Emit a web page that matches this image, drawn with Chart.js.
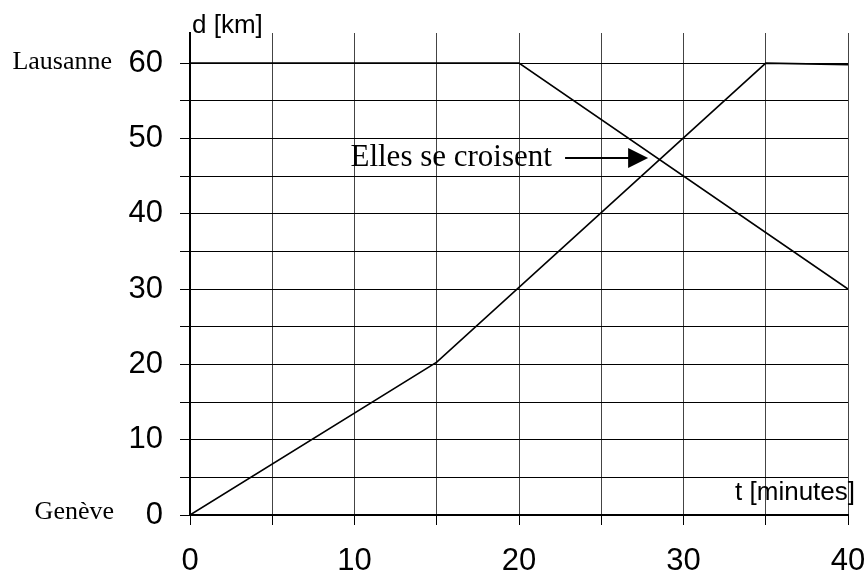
<!DOCTYPE html>
<html>
<head>
<meta charset="utf-8">
<script src="https://cdn.jsdelivr.net/npm/chart.js@4/dist/chart.umd.min.js"></script>
<style>
  html, body { margin: 0; padding: 0; background: #fff; }
  #wrap { width: 867px; height: 573px; position: relative; }
</style>
</head>
<body>
<div id="wrap"><canvas id="c"></canvas></div>
<script>
// Data
const genevaTimes = [0, 15, 35, 40];          // minutes
const genevaDist  = [0, 20.3, 60, 59.8];      // km
const lausanneTimes = [0, 20, 40];            // minutes
const lausanneDist  = [60, 60, 30];           // km
const xTickLabels = [0, 10, 20, 30, 40];
const yTickLabels = [0, 10, 20, 30, 40, 50, 60];
const yAxisTitle = 'd [km]';
const xAxisTitle = 't [minutes]';
const topPlace = 'Lausanne';
const bottomPlace = 'Genève';
const annotation = 'Elles se croisent';

const toPoints = (xs, ys) => xs.map((x, i) => ({ x: x, y: ys[i] }));

const textPlugin = {
  id: 'texts',
  afterDraw(chart) {
    const ctx = chart.ctx;
    const xs = chart.scales.x, ys = chart.scales.y;
    ctx.save();
    ctx.fillStyle = '#000';
    ctx.textBaseline = 'middle';

    ctx.font = '26px "Liberation Sans", Arial, sans-serif';
    ctx.textAlign = 'left';
    ctx.fillText(yAxisTitle, xs.getPixelForValue(0) + 2, 26);
    ctx.textAlign = 'right';
    ctx.fillText(xAxisTitle, xs.getPixelForValue(40) + 7, ys.getPixelForValue(0) - 22);

    ctx.font = '26px "Liberation Serif", "Times New Roman", serif';
    ctx.textAlign = 'right';
    ctx.fillText(topPlace, 112, ys.getPixelForValue(60) - 1);
    ctx.fillText(bottomPlace, 114, ys.getPixelForValue(0) - 3);

    // annotation
    const ay = ys.getPixelForValue(47.4);
    ctx.font = '31px "Liberation Serif", "Times New Roman", serif';
    ctx.textAlign = 'right';
    ctx.fillText(annotation, xs.getPixelForValue(22.0), ay);

    const x0 = xs.getPixelForValue(22.8), x1 = xs.getPixelForValue(27.85);
    ctx.strokeStyle = '#000';
    ctx.lineWidth = 2;
    ctx.beginPath();
    ctx.moveTo(x0, ay);
    ctx.lineTo(x1 - 18, ay);
    ctx.stroke();
    ctx.beginPath();
    ctx.moveTo(x1, ay);
    ctx.lineTo(x1 - 20, ay - 10);
    ctx.lineTo(x1 - 20, ay + 10);
    ctx.closePath();
    ctx.fill();
    ctx.restore();
  }
};

new Chart(document.getElementById('c'), {
  type: 'line',
  data: {
    datasets: [
      {
        label: 'Genève → Lausanne',
        data: toPoints(genevaTimes, genevaDist),
        borderColor: '#000',
        borderWidth: 1.6,
        pointRadius: 0,
        fill: false,
        tension: 0
      },
      {
        label: 'Lausanne → Genève',
        data: toPoints(lausanneTimes, lausanneDist),
        borderColor: '#000',
        borderWidth: 1.6,
        pointRadius: 0,
        fill: false,
        tension: 0
      }
    ]
  },
  options: {
    responsive: true,
    maintainAspectRatio: false,
    animation: false,
    layout: { padding: { top: 33, right: 19, left: 0, bottom: 0 } },
    plugins: {
      legend: { display: false },
      tooltip: { enabled: false }
    },
    scales: {
      x: {
        type: 'linear',
        min: 0,
        max: 40,
        afterFit(scale) { scale.height = 58; scale.paddingLeft = 0; scale.paddingRight = 0; },
        ticks: {
          stepSize: 5,
          autoSkip: false,
          maxRotation: 0,
          padding: 18,
          color: '#000',
          font: { family: '"Liberation Sans", Arial, sans-serif', size: 31 },
          callback: (v) => xTickLabels.includes(v) ? String(v) : ''
        },
        grid: { color: '#444', lineWidth: 1, tickLength: 10, tickColor: '#000' },
        border: { display: true, color: '#000', width: 2 }
      },
      y: {
        type: 'linear',
        min: 0,
        max: 64,
        afterFit(scale) { scale.width = 190; scale.paddingTop = 0; scale.paddingBottom = 0; },
        ticks: {
          stepSize: 5,
          includeBounds: false,
          autoSkip: false,
          padding: 17,
          color: '#000',
          font: { family: '"Liberation Sans", Arial, sans-serif', size: 31 },
          callback: (v) => yTickLabels.includes(v) ? String(v) : ''
        },
        grid: { color: '#000', lineWidth: 1, tickLength: 10, tickColor: '#000' },
        border: { display: true, color: '#000', width: 2 }
      }
    }
  },
  plugins: [textPlugin]
});
</script>
</body>
</html>
